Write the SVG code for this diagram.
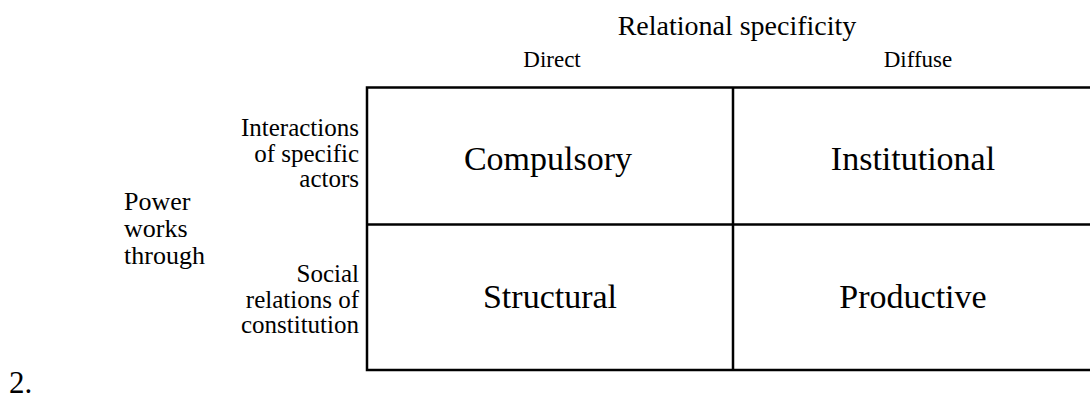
<svg xmlns="http://www.w3.org/2000/svg" width="1090" height="398" viewBox="0 0 1090 398">
<style>
text{font-family:"Liberation Serif","Times New Roman",serif;fill:#000}
.h{font-size:28px;text-anchor:middle}
.c{font-size:23px;text-anchor:middle}
.r{font-size:25px;text-anchor:end}
.cell{font-size:34px;text-anchor:middle}
.p{font-size:26px}
.grid{fill:none;stroke:#000;stroke-width:2.5}
</style>
<rect width="1090" height="398" fill="#fff"/>
<g id="header">
<text class="h" x="737" y="35">Relational specificity</text>
<text class="c" x="552" y="67">Direct</text>
<text class="c" x="918" y="67">Diffuse</text>
</g>
<g id="side">
<text class="p" x="124" y="210">Power</text>
<text class="p" x="124" y="237">works</text>
<text class="p" x="124" y="264">through</text>
<text class="r" x="359" y="136">Interactions</text>
<text class="r" x="359" y="161.5">of specific</text>
<text class="r" x="359" y="187">actors</text>
<text class="r" x="359" y="282">Social</text>
<text class="r" x="359" y="307.5">relations of</text>
<text class="r" x="359" y="333">constitution</text>
</g>
<g id="connectors">
<rect class="grid" x="367" y="87.5" width="730" height="282.5"/>
<line class="grid" x1="733" y1="87.5" x2="733" y2="370"/>
<line class="grid" x1="367" y1="224.5" x2="1090" y2="224.5"/>
</g>
<g id="cell-compulsory"><text class="cell" x="548" y="170">Compulsory</text></g>
<g id="cell-institutional"><text class="cell" x="913" y="170">Institutional</text></g>
<g id="cell-structural"><text class="cell" x="550" y="308">Structural</text></g>
<g id="cell-productive"><text class="cell" x="913" y="308">Productive</text></g>
<text x="9" y="393" style="font-size:31px">2.</text>
</svg>
